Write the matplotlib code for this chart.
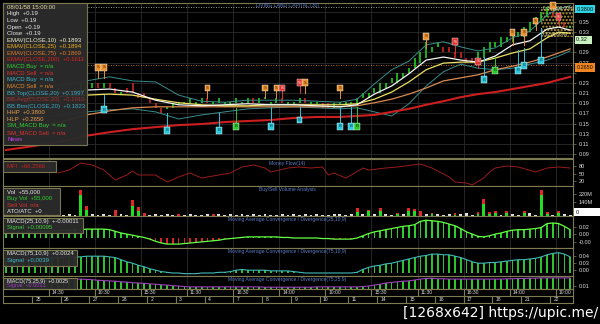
import matplotlib
matplotlib.use("Agg")
import matplotlib.pyplot as plt
from matplotlib.patches import Rectangle
import numpy as np

plt.rcParams['font.family'] = ['Liberation Sans', 'DejaVu Sans']

# ---------------- data ----------------
n_bars = 99
bars = np.arange(n_bars)

day_labels = ['', '25', '26', '27', '28', '2', '3', '4', '7', '8', '9', '10',
              '11', '14', '15', '16', '17', '18', '21', '22']
time_labels = ['', '14:30', '10:30', '15:30', '11:30', '16:30', '14:00', '10:00',
               '15:30', '11:30', '16:30', '14:00', '10:00']

# price bars, in satang (0.01)
bar_open = [20, 20, 21, 20, 20, 21, 21, 22, 21, 21, 22, 22, 21, 21, 22, 22, 23, 22, 23, 22,
            21, 22, 23, 21, 21, 20, 19, 18, 18, 18, 19, 19, 19, 19, 19, 20, 19, 19, 19, 19,
            19, 19, 19, 20, 19, 20, 19, 19, 20, 19, 19, 19, 20, 19, 19, 19, 19, 18, 19, 19,
            19, 19, 20, 20, 21, 21, 22, 23, 23, 24, 25, 26, 27, 28, 29, 30, 30, 30, 29, 29,
            28, 28, 27, 28, 29, 30, 30, 31, 31, 32, 32, 33, 34, 35, 36, 37, 36, 35, 34]
bar_close = [20, 21, 20, 20, 21, 21, 22, 21, 21, 22, 22, 21, 22, 23, 22, 23, 22, 23, 22, 21,
             21, 21, 21, 20, 20, 19, 18, 17, 18, 19, 19, 19, 20, 19, 20, 19, 19, 20, 19, 19,
             20, 19, 20, 19, 20, 20, 19, 20, 19, 19, 19, 20, 19, 19, 19, 18, 18, 19, 19, 19,
             19, 20, 21, 21, 22, 23, 23, 24, 25, 25, 26, 28, 29, 31, 30, 31, 29, 29, 28, 28,
             27, 27, 29, 30, 31, 31, 32, 32, 33, 33, 34, 35, 36, 37, 38, 36, 35, 34, 34]

# indicator lines read at these bars
line_bars = [0, 5, 10, 14, 18, 22, 26, 30, 34, 38, 42, 46, 50, 54, 58, 61, 64, 67, 70,
             73, 76, 79, 82, 85, 88, 91, 94, 96, 98]
ema10 = [0.200, 0.206, 0.212, 0.216, 0.218, 0.212, 0.196, 0.187, 0.185, 0.187, 0.189,
         0.187, 0.187, 0.185, 0.183, 0.187, 0.208, 0.224, 0.248, 0.275, 0.281, 0.275,
         0.271, 0.283, 0.305, 0.313, 0.336, 0.340, 0.334]
ema25 = [0.196, 0.200, 0.204, 0.206, 0.208, 0.206, 0.198, 0.191, 0.187, 0.185, 0.185,
         0.187, 0.187, 0.187, 0.187, 0.189, 0.198, 0.212, 0.232, 0.256, 0.269, 0.271,
         0.271, 0.279, 0.289, 0.297, 0.319, 0.330, 0.328]
ema75 = [0.128, 0.141, 0.155, 0.167, 0.175, 0.181, 0.183, 0.183, 0.183, 0.183, 0.183,
         0.183, 0.183, 0.183, 0.183, 0.185, 0.191, 0.198, 0.208, 0.220, 0.234, 0.240,
         0.246, 0.256, 0.263, 0.271, 0.281, 0.289, 0.297]
ema200 = [0.098, 0.106, 0.116, 0.126, 0.133, 0.139, 0.143, 0.147, 0.149, 0.153, 0.155,
          0.157, 0.161, 0.163, 0.163, 0.165, 0.167, 0.173, 0.179, 0.187, 0.194, 0.202,
          0.208, 0.212, 0.218, 0.224, 0.230, 0.236, 0.242]
bb_top = [0.216, 0.220, 0.226, 0.234, 0.242, 0.234, 0.232, 0.206, 0.194, 0.192, 0.196,
          0.196, 0.196, 0.194, 0.192, 0.198, 0.228, 0.256, 0.273, 0.305, 0.311, 0.301,
          0.293, 0.299, 0.319, 0.332, 0.364, 0.376, 0.382]
bb_btm = [0.161, 0.163, 0.167, 0.173, 0.177, 0.179, 0.173, 0.159, 0.167, 0.173, 0.179,
          0.181, 0.183, 0.181, 0.179, 0.181, 0.173, 0.165, 0.189, 0.224, 0.252, 0.267,
          0.259, 0.256, 0.259, 0.267, 0.275, 0.283, 0.293]

# buy / sell signal flags
sig_bar = [16, 17, 35, 45, 47, 52, 58, 73, 88, 90, 92, 95,
           48, 51, 78, 82, 96,
           17, 28, 37, 46, 51, 58, 60, 83, 89, 90, 93,
           40, 61, 85]
sig_box = [0.261, 0.261, 0.220, 0.220, 0.220, 0.230, 0.220, 0.322, 0.330, 0.330, 0.352, 0.383,
           0.220, 0.230, 0.311, 0.273, 0.360,
           0.177, 0.137, 0.137, 0.145, 0.157, 0.145, 0.145, 0.236, 0.255, 0.265, 0.275,
           0.145, 0.145, 0.255]
sig_tip = [0.240, 0.240, 0.200, 0.200, 0.200, 0.210, 0.200, 0.299, 0.305, 0.305, 0.334, 0.374,
           0.200, 0.210, 0.289, 0.259, 0.344,
           0.206, 0.171, 0.171, 0.183, 0.183, 0.183, 0.183, 0.281, 0.295, 0.299, 0.338,
           0.181, 0.183, 0.281]
sig_kind = ['So'] * 12 + ['Sr'] * 5 + ['Bc'] * 11 + ['Bg'] * 3

hhp, hlp = 0.38, 0.265
fib_hi, fib_lo = 0.38, 0.32

# money flow(14)
mf_bars = [9, 11, 13, 15, 17, 19, 21, 22, 23, 26, 28, 30, 32, 34, 36, 39, 41, 43, 45, 46,
           49, 51, 53, 55, 56, 57, 59, 60, 62, 63, 66, 68, 72, 74, 77, 78, 80, 81, 83, 84,
           85, 87, 89, 92, 94, 96, 98]
mf_vals = [52, 64, 92, 84, 64, 24, 44, 60, 44, 44, 16, 36, 52, 32, 40, 52, 76, 84, 72, 56,
           72, 76, 72, 76, 44, 52, 32, 44, 72, 64, 72, 76, 88, 72, 36, 16, 12, 4, 32, 56,
           72, 80, 76, 56, 72, 76, 72]

# volume (millions)
vol_base = [20, 10, 20, 10, 20, 10, 10, 20, 10, 20,
            10, 20, 10, 0, 0, 20, 10, 20, 10, 0,
            20, 10, 0, 0, 0, 10, 20, 10, 20, 10,
            20, 10, 20, 10, 10, 20, 10, 20, 10, 20,
            10, 20, 10, 20, 10, 20, 10, 10, 20, 10,
            20, 10, 20, 10, 20, 10, 10, 20, 20, 10,
            20, 0, 20, 0, 20, 0, 20, 10, 0, 20,
            0, 0, 0, 20, 0, 20, 10, 20, 10, 20,
            30, 10, 0, 0, 0, 0, 10, 0, 20, 10,
            0, 30, 10, 0, 0, 10, 0, 20, 10]
vol_spike_bar = [13, 14, 19, 22, 23, 24, 30, 36, 61, 63, 65, 68, 70, 71, 72, 74, 78,
                 82, 83, 84, 85, 87, 90, 93, 94, 96]
vol_spike_buy = [210, 60, 0, 100, 50, 0, 0, 0, 40, 50, 50, 20, 50, 50, 0, 20, 10,
                 20, 120, 20, 30, 30, 30, 210, 20, 30]
vol_spike_sell = [50, 40, 60, 60, 40, 30, 20, 20, 40, 10, 30, 10, 30, 20, 50, 10, 20,
                  20, 50, 20, 20, 20, 20, 50, 20, 20]

# MACD panels, in thousandths
macd1 = [9, 9, 10, 10, 11, 11, 12, 12, 13, 13,
         14, 14, 15, 15, 16, 16, 16, 16, 15, 12,
         9, 7, 5, 3, 1, -2, -6, -9, -11, -11,
         -11, -10, -9, -8, -7, -6, -5, -4, -2, -1,
         0, 1, 2, 2, 2, 2, 2, 2, 1, 1,
         0, 0, 0, 0, 0, -1, -1, -2, -2, -2,
         -2, 0, 4, 8, 11, 13, 15, 17, 19, 21,
         22, 24, 30, 32, 31, 30, 28, 25, 22, 17,
         11, 7, 3, 2, 4, 7, 9, 12, 14, 15,
         15, 16, 17, 19, 26, 27, 26, 21, 15]
macd2 = [18, 18, 19, 19, 20, 20, 21, 21, 22, 22,
         23, 23, 23, 23, 24, 24, 24, 24, 23, 22,
         19, 16, 14, 11, 9, 6, 4, 2, 1, 0,
         0, -1, -1, -1, 0, 0, 0, 1, 1, 2,
         4, 5, 4, 4, 4, 4, 3, 3, 3, 3,
         2, 1, 0, 0, 0, 0, 0, 0, 0, 0,
         0, 1, 5, 8, 10, 11, 13, 14, 16, 18,
         20, 22, 24, 25, 27, 27, 26, 26, 24, 22,
         19, 16, 14, 14, 15, 15, 16, 17, 18, 19,
         19, 20, 21, 23, 26, 28, 29, 27, 23]
macd3 = [33, 33, 33, 33, 33, 33, 33, 33, 33, 33,
         33, 33, 33, 33, 32, 31, 29, 28, 27, 26,
         24, 23, 21, 20, 19, 17, 16, 14, 13, 11,
         10, 8, 7, 7, 7, 7, 7, 7, 7, 7,
         7, 7, 7, 7, 7, 6, 6, 6, 6, 6,
         6, 6, 6, 6, 7, 7, 7, 7, 7, 7,
         7, 7, 8, 10, 13, 16, 20, 22, 24, 26,
         27, 30, 33, 35, 36, 34, 34, 33, 33, 33,
         33, 33, 33, 33, 33, 33, 33, 34, 34, 35,
         35, 36, 36, 37, 37, 37, 37, 37, 37]

# ---------------- layout ----------------
W, H = 600, 324
EDGE = '#7d7b52'
GRID = '#2c2c2c'
TXT = '#dcdcdc'
BLUE = '#5a7ac8'

day_edges = [-0.5] + [4.5 + 5 * k for k in range(len(day_labels) - 1)] + [n_bars - 0.5]
time_edges = [-0.5] + [7.5 + 8 * k for k in range(len(time_labels) - 1)] + [n_bars - 0.5]

fig = plt.figure(figsize=(6, 3.24), dpi=100, facecolor='black')


def px_axes(x0, y0, x1, y1):
    return fig.add_axes([x0 / W, 1 - y1 / H, (x1 - x0) / W, (y1 - y0) / H])


def style(ax, ylim, ticks, labels):
    ax.set_facecolor('black')
    ax.set_xlim(-0.5, n_bars - 0.5)
    ax.set_ylim(*ylim)
    ax.set_xticks([])
    ax.yaxis.tick_right()
    ax.set_yticks(ticks)
    ax.set_yticklabels(labels)
    ax.tick_params(axis='y', colors=EDGE, labelcolor=TXT, labelsize=4,
                   length=2, width=0.5, pad=2)
    for s in ax.spines.values():
        s.set_color(EDGE)
        s.set_linewidth(0.8)
    for e in time_edges[1:-1]:
        ax.axvline(e, color=GRID, lw=0.6, zorder=0)


# main price panel
ax = px_axes(3, 3, 573, 158)
pticks = np.arange(0.09, 0.38, 0.02)
# labels hidden behind the coloured price tags are left blank
plabels = ['' if round(t, 2) in (0.37, 0.31, 0.25) else f'{t:.2f}' for t in pticks]
style(ax, (0.0822, 0.3874), pticks, plabels)
for t in pticks:
    ax.axhline(t, color=GRID, lw=0.6, zorder=0)

o = np.array(bar_open) / 100
c = np.array(bar_close) / 100
lo = np.minimum(o, c)
hi = np.maximum(o, c)
flat = hi == lo
lo = np.where(flat, lo - 0.002, lo)
hi = np.where(flat, hi + 0.002, hi)
ax.vlines(bars, lo, hi, colors=np.where(c >= o, '#22dd22', '#e02828'), lw=1.1, zorder=2)

ax.axhline(hhp, color='#c8c8c8', lw=0.6, ls=(0, (1, 2)), zorder=1)
ax.axhline(hlp, color='#e08a30', lw=0.6, ls=(0, (1, 2)), zorder=1)
ax.add_patch(Rectangle((93, fib_lo), n_bars - 0.5 - 93, fib_hi - fib_lo, fill=False,
                       hatch='.....', ec='#b8a038', lw=0, zorder=1))
ax.text(93.3, 0.374, '0.38 (100.00%)', fontsize=3.3, color='#e8e0a8', zorder=4)
ax.text(93.0, 0.3215, '0.32 (0.00%)', fontsize=3.3, color='#e8e0a8', zorder=4)

ax.plot(line_bars, bb_top, color='#3a8c8c', lw=0.7, zorder=3)
ax.plot(line_bars, bb_btm, color='#3a8c8c', lw=0.7, zorder=3)
ax.plot(line_bars, ema200, color='#cc1f1f', lw=1.5, zorder=3)
ax.plot(line_bars, ema75, color='#d88a50', lw=0.9, zorder=3)
ax.plot(line_bars, ema25, color='#ece060', lw=0.9, zorder=3)
ax.plot(line_bars, ema10, color='#f6f6f6', lw=0.9, zorder=3)

sig_style = {'So': ('#e8902c', 'S', '#4a2000'), 'Sr': ('#e03434', 'S', '#ffffff'),
             'Bc': ('#2cc8dc', 'B', '#0a3a40'), 'Bg': ('#2ec82e', 'B', '#0a3a0a')}
for b, box, tip, kind in zip(sig_bar, sig_box, sig_tip, sig_kind):
    col, letter, tc = sig_style[kind]
    ax.plot([b, b], [box, tip], color=col, lw=0.7, zorder=5)
    ax.text(b, box, letter, ha='center', va='center', fontsize=3, color=tc, zorder=6,
            bbox=dict(boxstyle='square,pad=0.35', fc=col, ec='#f0f0f0', lw=0.3))

yt = ax.get_yaxis_transform()
for val, txt, fc in [(hhp, '0.3800', '#2fd4e4'), (fib_lo, '0.32  ', '#c8f0c0'),
                     (hlp, '0.2650', '#f08420')]:
    ax.text(1.006, val, txt, transform=yt, ha='left', va='top', fontsize=4,
            color='#101010', clip_on=False, zorder=7,
            bbox=dict(boxstyle='square,pad=0.3', fc=fc, ec='none'))

# money flow
mfx = px_axes(3, 159, 573, 186)
style(mfx, (0, 108), [80, 50, 20], ['80', '50', '20'])
mfx.plot(mf_bars, mf_vals, color='#9a1c1c', lw=0.7)

# volume
vax = px_axes(3, 186, 573, 216)
style(vax, (0, 300), [220, 140], ['220M', '140M'])
vax.bar(bars, vol_base, width=0.5, color='#e4e4e4')
vax.bar(vol_spike_bar, vol_spike_buy, width=0.5, color='#22dd22')
vax.bar(vol_spike_bar, vol_spike_sell, bottom=vol_spike_buy, width=0.5, color='#e02828')

# MACD(25,10,9)
m1x = px_axes(3, 216, 573, 248)
style(m1x, (-0.018, 0.0396), [0.0198, 0.0072, -0.0072], ['0.02', '0.00', '-0.00'])
m1 = np.array(macd1) * 1e-3
m1x.bar(bars, m1, width=0.3, color=np.where(m1 >= 0, '#2ecc2e', '#d42424'))
m1x.plot(bars, m1, color='#66ff44', lw=0.9)

# MACD(75,10,9)
m2x = px_axes(3, 248, 573, 276)
style(m2x, (-0.0043, 0.0357), [0.0243, 0.0143, 0.0043], ['0.04', '0.03', '0.00'])
m2 = np.array(macd2) * 1e-3
m2x.bar(bars, m2, width=0.3, color=np.where(m2 >= 0, '#2ec02e', '#d42424'))
m2x.plot(bars, m2, color='#40b8b8', lw=0.8)

# MACD(75,25,9)
m3x = px_axes(3, 276, 573, 289)
style(m3x, (0, 0.0433), [0.01], ['0.01'])
m3 = np.array(macd3) * 1e-3
m3x.bar(bars, m3, width=0.3, color='#2ec82e')
m3x.plot(bars, m3, color='#a040c0', lw=0.8)

# time / date axis
tax = px_axes(3, 289, 573, 303)
tax.set_facecolor('black')
tax.set_xlim(-0.5, n_bars - 0.5)
tax.set_ylim(0, 2)
tax.set_xticks([])
tax.set_yticks([])
for s in tax.spines.values():
    s.set_color(EDGE)
    s.set_linewidth(0.8)
tax.axhline(1, color=EDGE, lw=0.8)
tax.vlines(time_edges[1:-1], 1, 2, color=EDGE, lw=0.8)
tax.vlines(day_edges[1:-1], 0, 1, color=EDGE, lw=0.8)
for e, lab in zip(time_edges, time_labels):
    tax.text(e + 0.5, 1.5, lab, ha='left', va='center', fontsize=3.6, color=TXT)
for e, lab in zip(day_edges, day_labels):
    tax.text(e + 0.6, 0.5, lab, ha='left', va='center', fontsize=3.6, color=TXT)

# overlay in pixel coordinates: legends, titles, watermark
ov = fig.add_axes([0, 0, 1, 1])
ov.set_xlim(0, W)
ov.set_ylim(H, 0)
ov.axis('off')
ov.patch.set_alpha(0)

ov.text(287, 5.5, 'LIVING LAND CAPITAL (30)', fontsize=3.6, color=BLUE, ha='center', va='center')
for y, t in [(163, 'Money Flow(14)'), (189.5, 'Buy/Sell Volume Analysis'),
             (220, 'Moving Average Convergence / Divergence(25,10,9)'),
             (252, 'Moving Average Convergence / Divergence(75,10,9)'),
             (280, 'Moving Average Convergence / Divergence(75,25,9)')]:
    ov.text(287, y, t, fontsize=3.6, color=BLUE, ha='center', va='center')


def legend_box(x0, y0, x1, y1, lines, y_first, step, size):
    ov.add_patch(Rectangle((x0, y0), x1 - x0, y1 - y0, fc='#2b2b2b', ec=EDGE, lw=0.8, alpha=0.96))
    for i, (t, col) in enumerate(lines):
        ov.text(x0 + 4, y_first + i * step, t, fontsize=size, color=col, va='center', ha='left')


info_lines = [('08/01/58 15:00:00', '#e8dca0'), ('High  +0.19', '#e8e8e8'),
              ('Low  +0.19', '#e8e8e8'), ('Open  +0.19', '#e8e8e8'),
              ('Close  +0.19', '#e8e8e8'), ('EMAV(CLOSE,10)  +0.1893', '#f0f0d0'),
              ('EMAV(CLOSE,25)  +0.1894', '#f0b020'), ('EMAV(CLOSE,75)  +0.1869', '#e07830'),
              ('EMAV(CLOSE,200)  +0.1611', '#e02020'), ('MACD Buy  = n/a', '#30d030'),
              ('MACD Sell  = n/a', '#e03030'), ('MACD Buy  = n/a', '#40b8d0'),
              ('MACD Sell  = n/a', '#e08a30'), ('BB.Top(CLOSE,20)  +0.1997', '#40a8c0'),
              ('BB.Avg(CLOSE,20)  +0.1910', '#a03030'), ('BB.Btm(CLOSE,20)  +0.1823', '#40a8c0'),
              ('HHP  +0.3800', '#e8a050'), ('HLP  +0.2650', '#e8a050'),
              ('SM_MACD Buy  = n/a', '#30d030'), ('SM_MACD Sell  = n/a', '#e03030'),
              ('News', '#d040f0')]
legend_box(3, 3, 87, 145, info_lines, 7.2, 6.6, 4.3)
legend_box(3, 161, 56, 172, [('MFI  +66.2566', '#c82020')], 166.5, 6, 4.3)
legend_box(3, 188, 60, 215, [('Vol  +55,000', '#e8e8e8'), ('Buy Vol  +55,000', '#30d030'),
                             ('Sell Vol  n/a', '#e03030'), ('ATO/ATC  +0', '#e8e8e8')],
           192, 6.6, 4.3)
legend_box(3, 218, 83, 233, [('MACD(25,10,9)  +-0.00011', '#e8e8e8'),
                             ('Signal  +0.00095', '#40d040')], 221.5, 6.5, 4.3)
legend_box(3, 250, 77, 266, [('MACD(75,10,9)  +0.0024', '#e8e8e8'),
                             ('Signal  +0.0039', '#40b8c8')], 254, 6.8, 4.3)
legend_box(3, 278, 77, 289, [('MACD(75,25,9)  +0.0025', '#e8e8e8'),
                             ('Signal  +0.0031', '#a040c0')], 281.3, 4.6, 4.0)

ov.add_patch(Rectangle((573.5, 208), 26.5, 8, fc='white', ec='none'))
ov.text(576, 212, '0', fontsize=4, color='#101010', va='center')

ov.text(598, 313.5, '[1268x642] https://upic.me/', ha='right', va='center',
        fontsize=10, color='white', family='DejaVu Sans')

fig.savefig('out.png', dpi=100, facecolor='black')
